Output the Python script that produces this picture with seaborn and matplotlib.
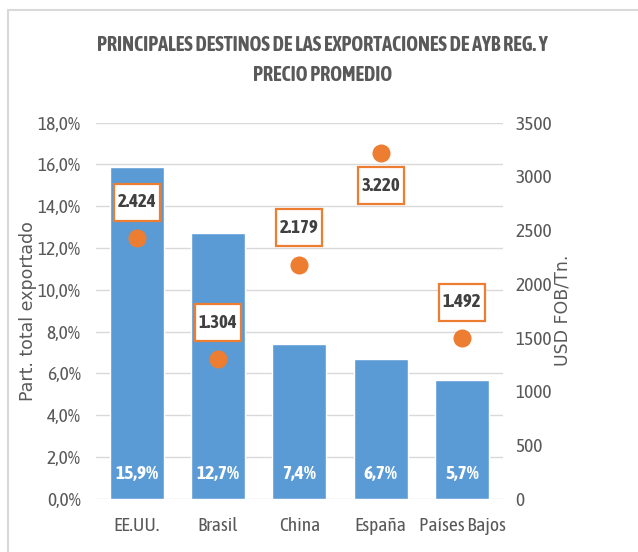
import numpy as np
import pandas as pd
import matplotlib
matplotlib.use("Agg")
import matplotlib.pyplot as plt
import seaborn as sns
from matplotlib.patches import Rectangle
from matplotlib.transforms import ScaledTranslation

# --------------------------
# Data
# --------------------------
destinos = ["EE.UU.", "Brasil", "China", "España", "Países Bajos"]
participacion = [15.9, 12.7, 7.4, 6.7, 5.7]        # % del total exportado
precio = [2424, 1304, 2179, 3220, 1492]             # USD FOB/Tn.
etiquetas_precio = ["2.424", "1.304", "2.179", "3.220", "1.492"]
etiquetas_part = ["15,9%", "12,7%", "7,4%", "6,7%", "5,7%"]
ticks_izq = [0, 2, 4, 6, 8, 10, 12, 14, 16, 18]
ticks_der = [0, 500, 1000, 1500, 2000, 2500, 3000, 3500]

df = pd.DataFrame({"Destino": destinos, "Part": participacion, "Precio": precio})

sns.set_style("white")
plt.rcParams["font.family"] = ["Asap Condensed", "Carlito", "DejaVu Sans"]

azul = "#5B9BD5"
naranja = "#ED7D31"
gris = "#595959"

fig = plt.figure(figsize=(6.38, 5.52), dpi=100)
ax = fig.add_axes([0.1505, 0.0966, 0.6375, 0.6811])

# barras
sns.barplot(data=df, x="Destino", y="Part", color=azul, width=0.665,
            saturation=1, ax=ax, zorder=2)
ax.set_ylim(0, 18)
ax.set_yticks(ticks_izq)
ax.set_yticklabels([f"{t:.1f}%".replace(".", ",") for t in ticks_izq])
ax.yaxis.grid(True, color="#D9D9D9", linewidth=1, zorder=0)
ax.set_axisbelow(True)
for s in ax.spines.values():
    s.set_visible(False)
ax.tick_params(length=0, labelsize=14, colors=gris)
ax.tick_params(axis="x", pad=13)
ax.tick_params(axis="y", pad=11)
ax.set_xlabel("")
ax.set_ylabel("Part. total exportado", family="DejaVu Sans", fontsize=12.5,
              color=gris)
ax.yaxis.set_label_coords(-0.145, 0.5)

for i, t in enumerate(etiquetas_part):
    ax.text(i, 1.2, t, ha="center", va="center", color="white",
            fontsize=14, fontweight="bold")

# precios en eje secundario
ax2 = ax.twinx()
sns.stripplot(data=df, x="Destino", y="Precio", color=naranja, jitter=False,
              size=13, ax=ax2, zorder=3)
ax2.set_ylim(0, 3500)
ax2.set_yticks(ticks_der)
for s in ax2.spines.values():
    s.set_visible(False)
ax2.tick_params(length=0, labelsize=14, colors=gris, pad=9)
ax2.set_ylabel("USD FOB/Tn.", family="DejaVu Sans", fontsize=12.5, color=gris)
ax2.yaxis.set_label_coords(1.125, 0.5)
ax2.set_xlabel("")

# etiquetas de precio en recuadro (medidas en pixeles)
offsets = [36, 36, 37, -33, 36]
box_w, box_h = 46, 37
for i, (p, t) in enumerate(zip(precio, etiquetas_precio)):
    tr = ScaledTranslation(i, p, ax2.transData)
    rect = Rectangle((-box_w / 2, offsets[i] - box_h / 2), box_w, box_h,
                     transform=tr, fc="white", ec=naranja, lw=1.6,
                     zorder=4, clip_on=False)
    ax2.add_patch(rect)
    ax2.annotate(t, (i, p), xytext=(0, offsets[i]), textcoords="offset pixels",
                 ha="center", va="center", fontsize=13.5, fontweight="bold",
                 color="#404040", zorder=5)

fig.text(0.505, 0.918, "PRINCIPALES DESTINOS DE LAS EXPORTACIONES DE AYB REG. Y",
         ha="center", va="center", fontsize=14.5, fontweight="bold", color=gris)
fig.text(0.505, 0.864, "PRECIO PROMEDIO", ha="center", va="center",
         fontsize=14.5, fontweight="bold", color=gris)

# marco del gráfico
fig.patches.append(Rectangle((8 / 638, -0.1), 1.2, 1.1 - 10 / 552,
                             transform=fig.transFigure, fill=False,
                             ec="#D9D9D9", lw=1.5))

fig.savefig("out.png", dpi=100)
